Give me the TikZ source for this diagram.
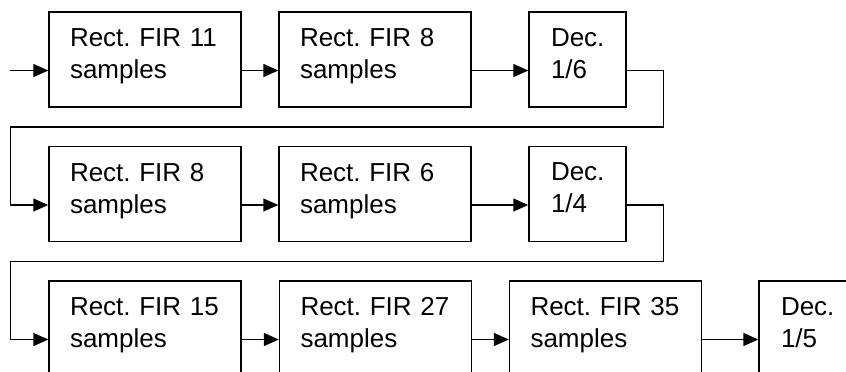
\documentclass[tikz,border=0pt]{standalone}
\usepackage{fontspec}
\setmainfont{Liberation Sans}
\frenchspacing
\usetikzlibrary{arrows.meta}
\tikzstyle{block}=[draw,line width=1.4pt,minimum height=95pt,inner xsep=21pt,text width=150pt,align=left,font=\fontsize{26}{32}\selectfont,execute at end node={\rule[-12pt]{0pt}{12pt}}]
\tikzstyle{decblock}=[block,inner xsep=22pt,text width=53pt]
\tikzstyle{edge}=[draw,line width=1.4pt,-{Triangle[length=15pt,width=13pt]}]

\begin{document}
\begin{tikzpicture}[x=1pt,y=-1pt]
    \path[use as bounding box,clip] (0,0) rectangle (846,372);
    % The filter blocks, three rows
    \foreach \pos/\name/\taps in {{(145,59.5)/f1/11}, {(375,59.5)/f2/8},
                            {(145,194)/f3/8}, {(375,194)/f4/6},
                            {(145,328.5)/f5/15}, {(375.5,328.5)/f6/27}, {(605.5,328.5)/f7/35}}
        \node[block] (\name) at \pos {Rect. FIR \taps\\samples};
    % The decimators
    \foreach \pos/\name/\ratio in {{(577.5,59.5)/d1/{1/6}}, {(577.5,194)/d2/{1/4}},
                            {(807.5,328.5)/d3/{1/5}}}
        \node[decblock] (\name) at \pos {Dec.\\\ratio};
    % Connect blocks in each row
    \coordinate (in) at (10,70.5);
    \path[edge] (in) -- ([yshift=-11pt]f1.west);
    \foreach \source/ \dest in {f1/f2, f2/d1, f3/f4, f4/d2, f5/f6, f6/f7, f7/d3}
        \path[edge] ([yshift=-11pt]\source.east) -- ([yshift=-11pt]\dest.west);
    % Wrap round to the next row
    \foreach \source/ \dest in {d1/f3, d2/f5}
        \path[edge] ([yshift=-11pt]\source.east) -| ++(37,56.5)
            -| ([xshift=-38pt,yshift=-11pt]\dest.west) -- ([yshift=-11pt]\dest.west);
\end{tikzpicture}
\end{document}
